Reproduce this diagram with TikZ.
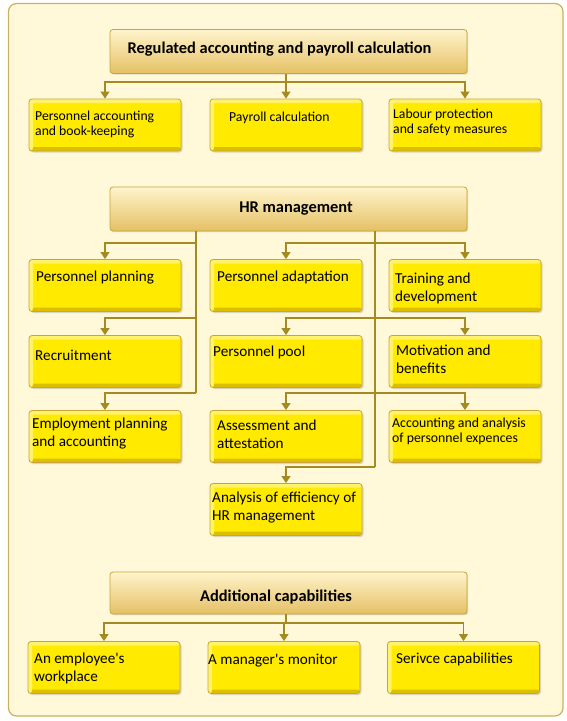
\documentclass[tikz,border=0pt]{standalone}
\usepackage{fontspec}
\setmainfont{Carlito}
\usetikzlibrary{arrows.meta,shadows,calc}
\definecolor{bgc}{HTML}{FFF9D9}
\definecolor{framec}{HTML}{C9B25E}
\definecolor{linec}{HTML}{A58A22}
\definecolor{boxborder}{HTML}{C8A53A}
\definecolor{boxtop}{HTML}{FFF36A}
\definecolor{boxmid}{HTML}{FFEA00}
\definecolor{boxbot}{HTML}{DCC000}
\definecolor{hdrtop}{HTML}{FFF4CC}
\definecolor{hdrbot}{HTML}{E5C064}
\tikzset{
  framebox/.style={draw=framec, line width=1.2pt, fill=bgc, rounded corners=8pt},
  hdr/.style={draw=boxborder, line width=0.8pt, rounded corners=3pt, top color=hdrtop, bottom color=hdrbot,
    minimum width=357pt, minimum height=44pt, inner sep=0pt,
    drop shadow={shadow xshift=1.2pt, shadow yshift=-1.2pt, opacity=0.25}},
  bx/.style={draw=boxborder, line width=0.8pt, rounded corners=3pt, fill=boxmid,
    minimum width=152pt, minimum height=52pt, inner sep=0pt,
    path picture={
      \fill[boxbot] ([yshift=4pt]path picture bounding box.south west) rectangle (path picture bounding box.south east);
      \fill[boxtop] ([yshift=-4pt]path picture bounding box.north west) rectangle (path picture bounding box.north east);
      \fill[boxtop] (path picture bounding box.north west) rectangle ([xshift=4pt]path picture bounding box.south west);
    },
    drop shadow={shadow xshift=1.5pt, shadow yshift=-1.5pt, opacity=0.3}},
  conn/.style={draw=linec, line width=1.1pt},
  arr/.style={conn, -{Triangle[width=9pt,length=7pt]}},
  txt/.style={inner sep=0pt, anchor=west, align=left, font=\fontsize{15.2pt}{18pt}\selectfont},
  stxt/.style={inner sep=0pt, anchor=west, align=left, font=\fontsize{13.7pt}{15pt}\selectfont},
  htxt/.style={inner sep=0pt, font=\fontsize{16.4pt}{19pt}\selectfont\bfseries},
}
\begin{document}
\begin{tikzpicture}[x=1pt,y=-1pt]
\useasboundingbox (0,0) rectangle (567,721);
\draw[framebox] (8.5,3.5) rectangle (563,716);

% ---------- Group 1
\node[hdr] (h1) at (288.5,51.5) {};
\node[htxt] (h1t) at (279.5,49) {Regulated accounting and payroll calculation};
\node[bx] (a1) at (105,125) {};
\node[bx] (a2) at (286,125) {};
\node[bx] (a3) at (465,125) {};
\node[stxt] (a1t) at (35,124) {Personnel accounting\\and book-keeping};
\node[stxt] (a2t) at (229,118) {Payroll calculation};
\node[stxt] (a3t) at (393,122) {Labour protection\\and safety measures};
\coordinate (j1) at (286,82);
\draw[conn] (h1.south -| j1) -- (j1);
\draw[arr] (j1) -| (a1.north);
\draw[arr] (j1) -- (a2.north);
\draw[arr] (j1) -| (a3.north);

% ---------- Group 2
\node[hdr] (h2) at (288.5,209) {};
\node[htxt] (h2t) at (296,209) {HR management};
\node[bx] (pp) at (105,285.5) {};
\node[bx] (pa) at (286,285.5) {};
\node[bx] (td) at (465,285.5) {};
\node[bx] (rc) at (105,361.5) {};
\node[bx] (pl) at (286,361.5) {};
\node[bx] (mb) at (465,361.5) {};
\node[bx] (ep) at (105,436.5) {};
\node[bx] (as) at (286,436.5) {};
\node[bx] (aa) at (465,436.5) {};
\node[bx] (ae) at (286,509.5) {};
\node[txt] (ppt) at (36,278) {Personnel planning};
\node[txt] (pat) at (217,277) {Personnel adaptation};
\node[txt] (tdt) at (395,288) {Training and\\development};
\node[txt] (rct) at (35,355) {Recruitment};
\node[txt] (plt) at (213,352) {Personnel pool};
\node[txt] (mbt) at (396,359) {Motivation and\\benefits};
\node[txt] (ept) at (32,434) {Employment planning\\and accounting};
\node[txt] (ast) at (217,434) {Assessment and\\attestation};
\node[stxt, font=\fontsize{13.8pt}{15pt}\selectfont] (aat) at (392,431) {Accounting and analysis\\of personnel expences};
\node[txt] (aet) at (212,507.5) {Analysis of efficiency of\\HR management};

\coordinate (L1) at (196,243);
\coordinate (L2) at (196,318);
\coordinate (L3) at (196,393);
\coordinate (R1) at (375,243);
\coordinate (R2) at (375,318);
\coordinate (R3) at (375,393);
\coordinate (R4) at (375,467);
\draw[conn] (h2.south -| L1) -- (L3);
\draw[conn] (h2.south -| R1) -- (R4);
\draw[arr] (L1) -| (pp.north);
\draw[arr] (L2) -| (rc.north);
\draw[arr] (L3) -| (ep.north);
\draw[arr] (R1) -| (pa.north);
\draw[arr] (R1) -| (td.north);
\draw[arr] (R2) -| (pl.north);
\draw[arr] (R2) -| (mb.north);
\draw[arr] (R3) -| (as.north);
\draw[arr] (R3) -| (aa.north);
\draw[arr] (R4) -| (ae.north);

% ---------- Group 3
\node[hdr, minimum height=42pt] (h3) at (288.5,593) {};
\node[htxt] (h3t) at (276,597) {Additional capabilities};
\node[bx] (ew) at (104,667.5) {};
\node[bx] (mm) at (284,667.5) {};
\node[bx] (sc) at (463.5,667.5) {};
\node[txt] (ewt) at (34,668.5) {An employee\textquotesingle s\\workplace};
\node[txt] (mmt) at (208,661) {A manager\textquotesingle s monitor};
\node[txt] (sct) at (396,659) {Serivce capabilities};
\coordinate (j3) at (286,623);
\draw[conn] (h3.south -| j3) -- (j3);
\draw[arr] (j3) -| (ew.north);
\draw[arr] (j3) -| (mm.north);
\draw[arr] (j3) -| (sc.north);
\end{tikzpicture}
\end{document}
